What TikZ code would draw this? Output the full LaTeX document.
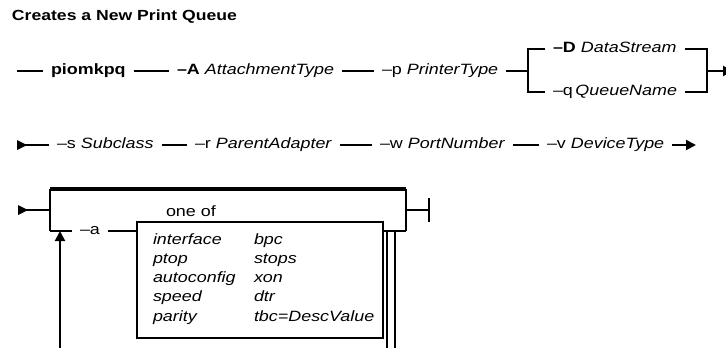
\documentclass[tikz,border=0pt]{standalone}
\usepackage{fontspec}
\setmainfont{Liberation Sans}[FakeStretch=1.2]
\usetikzlibrary{arrows.meta}
\begin{document}
\begin{tikzpicture}[x=0.75pt,y=-0.75pt, line width=1.5pt,
  lbl/.style={inner sep=0pt, outer xsep=6pt, anchor=west, text height=8pt, text depth=2.2pt, font=\fontsize{11.2}{13}\selectfont},
  plain/.style={inner sep=0pt, anchor=west, text height=8pt, text depth=2.2pt, font=\fontsize{11.2}{13}\selectfont},
  tip/.style={-{Triangle[length=7.5pt,width=7.5pt]}},
  heavy/.style={line width=2.8pt},
  marker/.style={fill=black}]
\useasboundingbox (0,0) rectangle (726,347);
\clip (0,0) rectangle (726,347);

% title
\node[plain, font=\fontsize{11}{13}\selectfont\bfseries] (title) at (11,17) {Creates a New Print Queue};

% ---------- row 1 ----------
\coordinate (r1s) at (17,71);
\node[lbl] (pk) at (43,71) {\textbf{piomkpq}};
\node[lbl] (A) at (169,71) {\textbf{–A} \textit{AttachmentType}};
\node[lbl] (p) at (374,71) {–p \textit{PrinterType}};
\coordinate (bl) at (528,71);
\coordinate (br) at (707,71);
\node[lbl] (D) at (545,49) {\textbf{–D} \textit{DataStream}};
\node[lbl] (q) at (545,92) {–q\,\textit{QueueName}};
\coordinate (e1) at (733,71);

\draw (r1s) -- (pk);
\draw (pk) -- (A);
\draw (A) -- (p);
\draw (p) -- (bl);
\draw (D.west) -| (bl) |- (q.west);
\draw (D.east) -| (br) |- (q.east);
\draw[tip] (br) -- (e1);

% ---------- row 2 ----------
\coordinate (s2) at (17,145);
\node[lbl] (s) at (49,145) {–s \textit{Subclass}};
\node[lbl] (r) at (187,145) {–r \textit{ParentAdapter}};
\node[lbl] (w) at (372,145) {–w \textit{PortNumber}};
\node[lbl] (v) at (539,145) {–v \textit{DeviceType}};
\coordinate (e2) at (696,145);

\fill[marker] (s2) -- ++(0,-5) -- ++(10,5) -- ++(-10,5) -- cycle;
\draw (s2) -- (s);
\draw (s) -- (r);
\draw (r) -- (w);
\draw (w) -- (v);
\draw[tip] (v) -- (e2);

% ---------- row 3 ----------
\coordinate (s3) at (18,210);
\coordinate (j1) at (50,210);
\coordinate (lt) at (50,189);
\coordinate (rt) at (406,189);
\coordinate (lb) at (50,231);
\coordinate (rb) at (406,231);
\coordinate (j2) at (406,210);
\coordinate (endbar) at (429,210);
\coordinate (upstart) at (60,352);
\coordinate (upend) at (60,231);
\coordinate (down1) at (387,231);
\coordinate (down2) at (395,231);

\fill[marker] (s3) -- ++(0,-5) -- ++(10,5) -- ++(-10,5) -- cycle;
\draw (s3) -- (j1);
\draw[heavy] (lt) -- (rt);
\draw (lt) -- (lb);
\draw (rt) -- (rb);
\draw (j2) -- (endbar);
\draw (endbar) ++(0,-12) -- ++(0,24);

\node[lbl] (a) at (72,231) {–a};
\node[draw, inner sep=0pt, outer sep=0pt, minimum width=184.5pt, minimum height=87pt, anchor=north west] (box) at (137,222) {};
\node[plain] (oneof) at (165,213) {one of};

\draw (lb) -- (a);
\draw (a) -- (box.west |- lb);
\draw (box.east |- rb) -- (rb);
\draw (down1) -- ++(0,125);
\draw (down2) -- ++(0,125);
\draw[tip] (upstart) -- (upend);

% box contents
\node[plain] (i1) at (152,241) {\textit{interface}};
\node[plain] (i2) at (152,260) {\textit{ptop}};
\node[plain] (i3) at (152,279) {\textit{autoconfig}};
\node[plain] (i4) at (152,298) {\textit{speed}};
\node[plain] (i5) at (152,318) {\textit{parity}};
\node[plain] (k1) at (253,241) {\textit{bpc}};
\node[plain] (k2) at (253,260) {\textit{stops}};
\node[plain] (k3) at (253,279) {\textit{xon}};
\node[plain] (k4) at (253,298) {\textit{dtr}};
\node[plain] (k5) at (253,318) {\textit{tbc=DescValue}};
\end{tikzpicture}
\end{document}
